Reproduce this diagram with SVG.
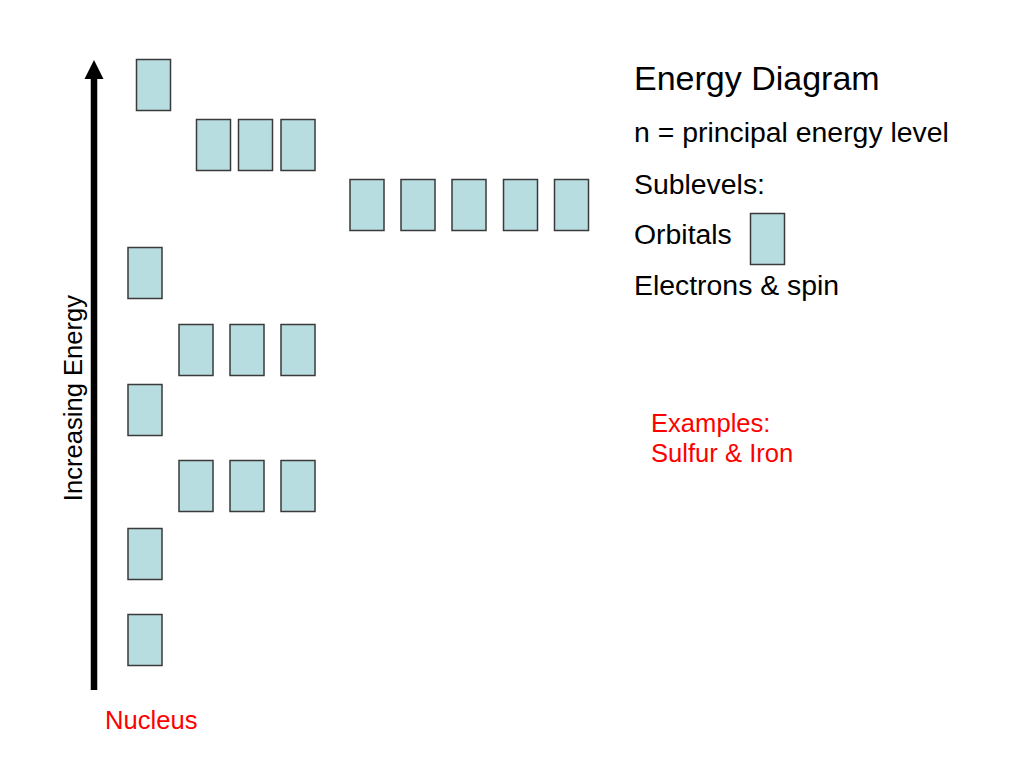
<svg xmlns="http://www.w3.org/2000/svg" width="1024" height="768" viewBox="0 0 1024 768">
<style>
.orb{fill:#B8DDE1;stroke:#3a3a3a;stroke-width:1.5}
.t{font-family:"Liberation Sans",Arial,sans-serif;fill:#000}
.r{font-family:"Liberation Sans",Arial,sans-serif;fill:#FF0000;font-size:25.6px}
</style>
<rect width="1024" height="768" fill="#fff"/>
<g id="connectors">
<line x1="94" y1="690" x2="94" y2="77" stroke="#000" stroke-width="6.5"/>
<polygon points="94,60 103.5,79 84.5,79" fill="#000"/>
</g>
<g id="level-1s"><rect class="orb" x="128" y="614.5" width="34" height="51"/></g>
<g id="level-2s"><rect class="orb" x="128" y="528.5" width="34" height="51"/></g>
<g id="level-2p">
<rect class="orb" x="179" y="460.5" width="34" height="51"/>
<rect class="orb" x="230" y="460.5" width="34" height="51"/>
<rect class="orb" x="281" y="460.5" width="34" height="51"/>
</g>
<g id="level-3s"><rect class="orb" x="128" y="384.5" width="34" height="51"/></g>
<g id="level-3p">
<rect class="orb" x="179" y="324.5" width="34" height="51"/>
<rect class="orb" x="230" y="324.5" width="34" height="51"/>
<rect class="orb" x="281" y="324.5" width="34" height="51"/>
</g>
<g id="level-4s"><rect class="orb" x="128" y="247.5" width="34" height="51"/></g>
<g id="level-3d">
<rect class="orb" x="350" y="179.5" width="34" height="51"/>
<rect class="orb" x="401" y="179.5" width="34" height="51"/>
<rect class="orb" x="452" y="179.5" width="34" height="51"/>
<rect class="orb" x="503.5" y="179.5" width="34" height="51"/>
<rect class="orb" x="554.5" y="179.5" width="34" height="51"/>
</g>
<g id="level-4p">
<rect class="orb" x="196.5" y="119.5" width="34" height="51"/>
<rect class="orb" x="238.5" y="119.5" width="34" height="51"/>
<rect class="orb" x="281" y="119.5" width="34" height="51"/>
</g>
<g id="level-5s"><rect class="orb" x="136.5" y="59.5" width="34" height="51"/></g>
<g id="axis-label">
<text class="t" font-size="25.6" transform="translate(81.5,398) rotate(-90)" text-anchor="middle">Increasing Energy</text>
</g>
<g id="nucleus"><text class="r" x="105" y="729">Nucleus</text></g>
<g id="legend">
<text class="t" x="634" y="90" font-size="34">Energy Diagram</text>
<text class="t" x="634" y="142" font-size="28.4">n = principal energy level</text>
<text class="t" x="634" y="193.5" font-size="28.4">Sublevels:</text>
<text class="t" x="634" y="244" font-size="28.4">Orbitals</text>
<rect class="orb" x="750.5" y="213.5" width="34" height="51"/>
<text class="t" x="634" y="295" font-size="28.4">Electrons &amp; spin</text>
</g>
<g id="examples">
<text class="r" x="651" y="431.5">Examples:</text>
<text class="r" x="651" y="461.5">Sulfur &amp; Iron</text>
</g>
</svg>
